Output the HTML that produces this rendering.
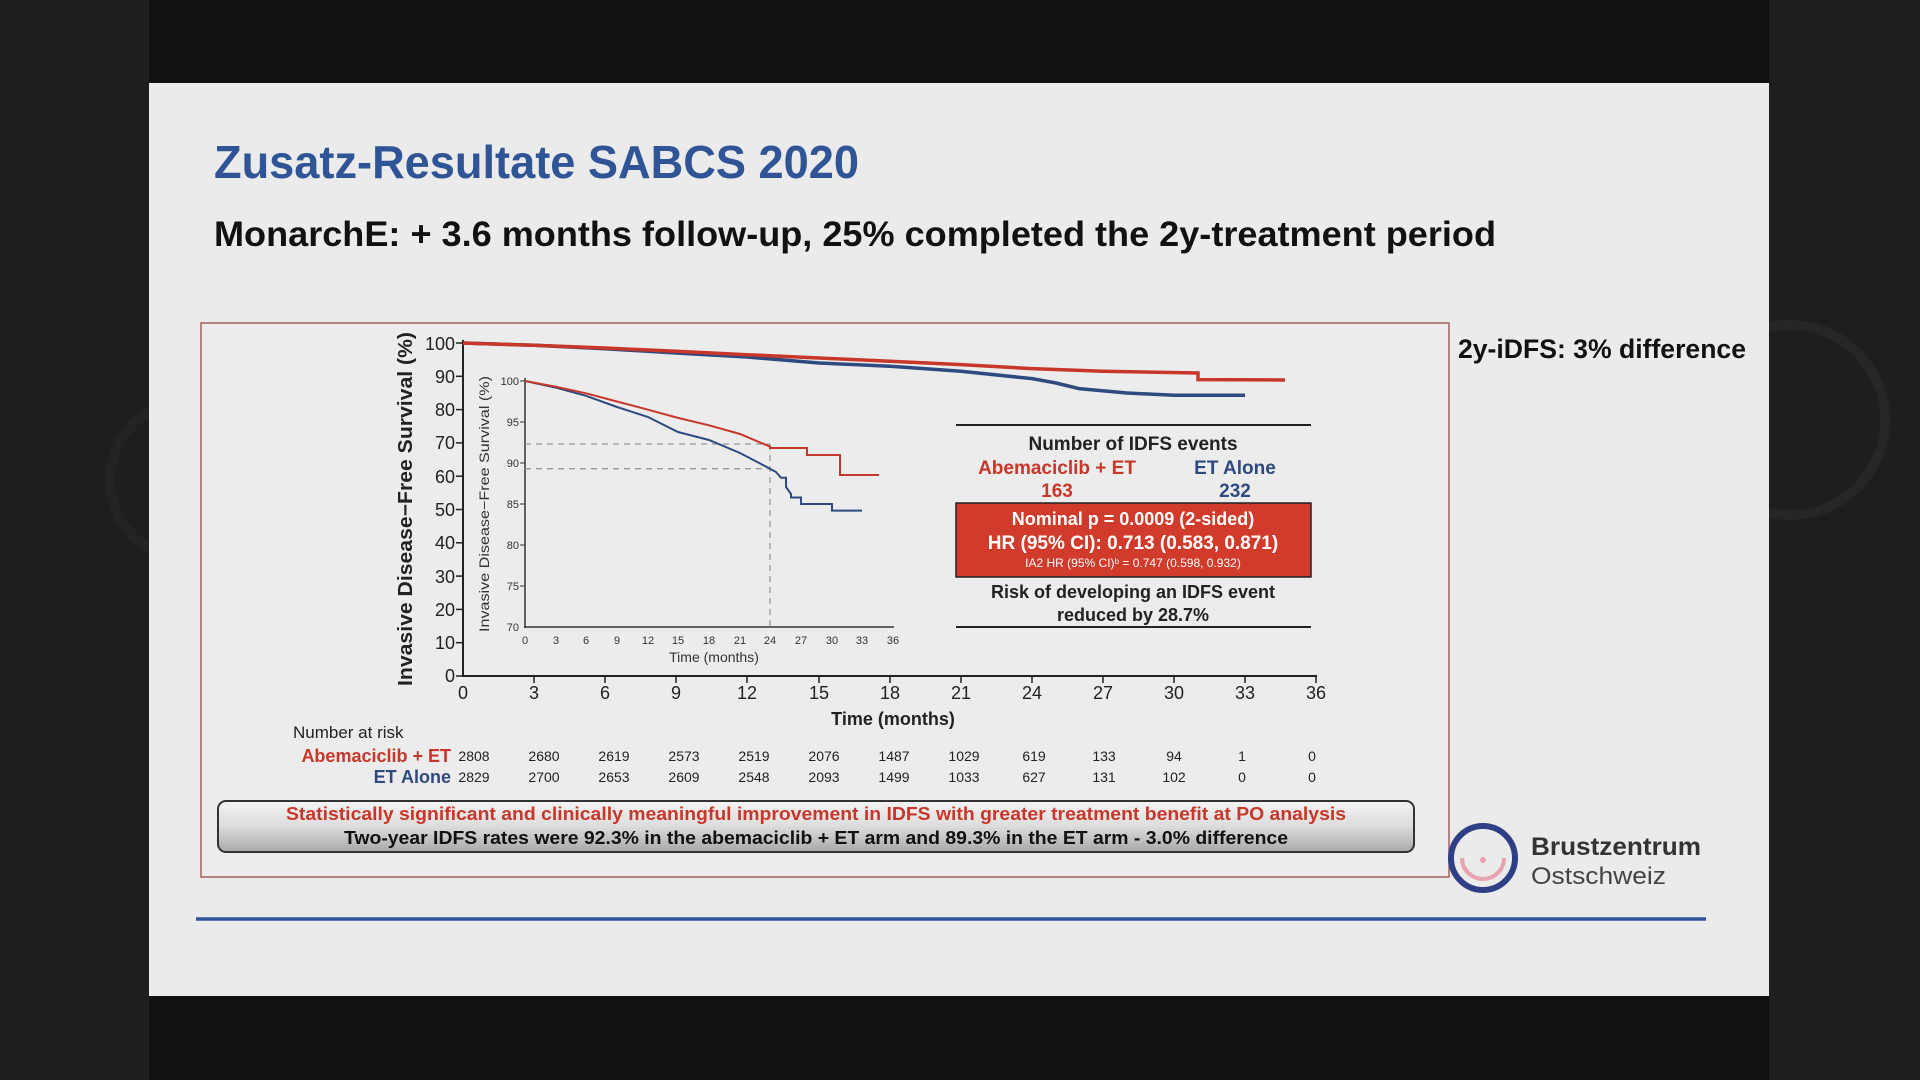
<!DOCTYPE html>
<html><head><meta charset="utf-8"><style>
html,body{margin:0;padding:0;background:#111;}
svg{display:block;font-family:"Liberation Sans",Arial,sans-serif;}
</style></head><body>
<svg width="1920" height="1080" viewBox="0 0 1920 1080" xmlns="http://www.w3.org/2000/svg">
<rect x="0" y="0" width="1920" height="1080" fill="#111"/>
<rect x="0" y="0" width="149" height="1080" fill="#1e1e1e"/>
<rect x="1769" y="0" width="151" height="1080" fill="#1e1e1e"/>
<circle cx="1790" cy="420" r="95" fill="none" stroke="#262626" stroke-width="10"/>
<circle cx="190" cy="480" r="80" fill="none" stroke="#232323" stroke-width="10"/>
<rect x="149" y="83" width="1620" height="913" fill="#ebebeb"/>
<text x="214" y="178" font-size="46" font-weight="bold" fill="#2f5597" textLength="645" lengthAdjust="spacingAndGlyphs">Zusatz-Resultate SABCS 2020</text>
<text x="214" y="246" font-size="35" font-weight="bold" fill="#111" textLength="1282" lengthAdjust="spacingAndGlyphs">MonarchE:  + 3.6 months follow-up, 25% completed the 2y-treatment period</text>
<text x="1458" y="358" font-size="27" font-weight="bold" fill="#111" textLength="288" lengthAdjust="spacingAndGlyphs">2y-iDFS:  3% difference</text>
<rect x="201" y="323" width="1248" height="554" fill="#ececec" stroke="#a46060" stroke-width="1.5"/>
<line x1="196" y1="919" x2="1706" y2="919" stroke="#2f5597" stroke-width="3.5"/>
<!-- logo -->
<circle cx="1483" cy="858" r="32" fill="none" stroke="#2f3f86" stroke-width="6"/>
<path d="M1462 858 A21 21 0 0 0 1504 858" fill="none" stroke="#e9a3b0" stroke-width="4"/>
<circle cx="1483" cy="860" r="3" fill="#e9a3b0"/>
<text x="1531" y="855" font-size="25" font-weight="bold" fill="#333" textLength="170" lengthAdjust="spacingAndGlyphs">Brustzentrum</text>
<text x="1531" y="884" font-size="24" fill="#444" textLength="135" lengthAdjust="spacingAndGlyphs">Ostschweiz</text>

<!-- main axes -->
<g stroke="#222" stroke-width="2" fill="none">
<line x1="463" y1="340" x2="463" y2="677"/>
<line x1="462" y1="676" x2="1317" y2="676"/>
</g>
<g stroke="#222" stroke-width="1.5">
<line x1="456" y1="343" x2="463" y2="343"/><line x1="456" y1="376.3" x2="463" y2="376.3"/><line x1="456" y1="409.6" x2="463" y2="409.6"/><line x1="456" y1="442.9" x2="463" y2="442.9"/><line x1="456" y1="476.2" x2="463" y2="476.2"/><line x1="456" y1="509.5" x2="463" y2="509.5"/><line x1="456" y1="542.8" x2="463" y2="542.8"/><line x1="456" y1="576.1" x2="463" y2="576.1"/><line x1="456" y1="609.4" x2="463" y2="609.4"/><line x1="456" y1="642.7" x2="463" y2="642.7"/><line x1="456" y1="676" x2="463" y2="676"/>
<line x1="534" y1="676" x2="534" y2="683"/><line x1="605" y1="676" x2="605" y2="683"/><line x1="676" y1="676" x2="676" y2="683"/><line x1="747" y1="676" x2="747" y2="683"/><line x1="819" y1="676" x2="819" y2="683"/><line x1="890" y1="676" x2="890" y2="683"/><line x1="961" y1="676" x2="961" y2="683"/><line x1="1032" y1="676" x2="1032" y2="683"/><line x1="1103" y1="676" x2="1103" y2="683"/><line x1="1174" y1="676" x2="1174" y2="683"/><line x1="1245" y1="676" x2="1245" y2="683"/><line x1="1316" y1="676" x2="1316" y2="683"/>
</g>
<g font-size="18" fill="#222" text-anchor="end">
<text x="455" y="350">100</text><text x="455" y="383">90</text><text x="455" y="416">80</text><text x="455" y="449">70</text><text x="455" y="483">60</text><text x="455" y="516">50</text><text x="455" y="549">40</text><text x="455" y="583">30</text><text x="455" y="616">20</text><text x="455" y="649">10</text><text x="455" y="682">0</text>
</g>
<g font-size="18" fill="#222" text-anchor="middle">
<text x="463" y="699">0</text><text x="534" y="699">3</text><text x="605" y="699">6</text><text x="676" y="699">9</text><text x="747" y="699">12</text><text x="819" y="699">15</text><text x="890" y="699">18</text><text x="961" y="699">21</text><text x="1032" y="699">24</text><text x="1103" y="699">27</text><text x="1174" y="699">30</text><text x="1245" y="699">33</text><text x="1316" y="699">36</text>
</g>
<text x="893" y="725" font-size="18" font-weight="bold" fill="#222" text-anchor="middle">Time (months)</text>
<text transform="translate(412,509) rotate(-90)" font-size="20" font-weight="bold" fill="#222" text-anchor="middle" textLength="354" lengthAdjust="spacingAndGlyphs">Invasive Disease−Free Survival (%)</text>

<polyline fill="none" stroke="#2f4a80" stroke-width="3.5" points="463,343 534,345.3 605,348.7 676,353 747,357 819,363 890,366.3 961,371.3 1032,378.6 1056,383 1079,388.6 1127,393 1174,395.3 1245,395.3"/>
<polyline fill="none" stroke="#c8372a" stroke-width="3.5" points="463,343 534,345.3 605,348 676,351.3 747,354.7 819,358 890,361.3 961,364.6 1032,368.6 1103,371.3 1198,373 1198,379.6 1285,380"/>

<!-- inset -->
<g stroke="#333" stroke-width="1.5" fill="none">
<line x1="525" y1="378" x2="525" y2="628"/><line x1="524" y1="627" x2="894" y2="627"/>
</g>
<g stroke="#333" stroke-width="1">
<line x1="520" y1="381" x2="525" y2="381"/><line x1="520" y1="422" x2="525" y2="422"/><line x1="520" y1="463" x2="525" y2="463"/><line x1="520" y1="504" x2="525" y2="504"/><line x1="520" y1="545" x2="525" y2="545"/><line x1="520" y1="586" x2="525" y2="586"/>
</g>
<g font-size="11" fill="#333" text-anchor="end">
<text x="519" y="385">100</text><text x="519" y="426">95</text><text x="519" y="467">90</text><text x="519" y="508">85</text><text x="519" y="549">80</text><text x="519" y="590">75</text><text x="519" y="631">70</text>
</g>
<g font-size="11" fill="#333" text-anchor="middle">
<text x="525" y="644">0</text><text x="556" y="644">3</text><text x="586" y="644">6</text><text x="617" y="644">9</text><text x="648" y="644">12</text><text x="678" y="644">15</text><text x="709" y="644">18</text><text x="740" y="644">21</text><text x="770" y="644">24</text><text x="801" y="644">27</text><text x="832" y="644">30</text><text x="862" y="644">33</text><text x="893" y="644">36</text>
</g>
<text x="714" y="662" font-size="14" fill="#333" text-anchor="middle">Time (months)</text>
<text transform="translate(489,504) rotate(-90)" font-size="14" fill="#333" text-anchor="middle" textLength="256" lengthAdjust="spacingAndGlyphs">Invasive Disease−Free Survival (%)</text>
<g stroke="#999" stroke-width="1.3" stroke-dasharray="6,5" fill="none">
<line x1="525" y1="444" x2="770" y2="444"/><line x1="525" y1="468.7" x2="770" y2="468.7"/><line x1="770" y1="444" x2="770" y2="627"/>
</g>
<polyline fill="none" stroke="#2f4a80" stroke-width="2" points="525,381 556,387.6 586,395.8 617,407 648,417 678,432 709,440 740,453 770,468.7 776,472 781,477.8 786,477.8 786,487 791,494 791,497.5 801,497.5 801,504 811,504 832,504 832,510.6 862,510.6"/>
<polyline fill="none" stroke="#c8372a" stroke-width="2" points="525,381 556,386.7 586,393.3 617,401.5 648,409.7 678,417.9 709,425.3 740,434 770,446.6 770,448 807,448 807,455 840,455 840,475 879,475"/>

<!-- legend box -->
<line x1="956" y1="425" x2="1311" y2="425" stroke="#222" stroke-width="2"/>
<line x1="956" y1="627" x2="1311" y2="627" stroke="#222" stroke-width="2"/>
<text x="1133" y="450" font-size="19" font-weight="bold" fill="#222" text-anchor="middle">Number of IDFS events</text>
<text x="1057" y="474" font-size="19" font-weight="bold" fill="#c8372a" text-anchor="middle">Abemaciclib + ET</text>
<text x="1057" y="497" font-size="19" font-weight="bold" fill="#c8372a" text-anchor="middle">163</text>
<text x="1235" y="474" font-size="19" font-weight="bold" fill="#2f4a80" text-anchor="middle">ET Alone</text>
<text x="1235" y="497" font-size="19" font-weight="bold" fill="#2f4a80" text-anchor="middle">232</text>
<rect x="956" y="503" width="355" height="74" fill="#d13b2b" stroke="#222" stroke-width="1.5"/>
<text x="1133" y="525" font-size="18" font-weight="bold" fill="#fff" text-anchor="middle">Nominal p = 0.0009 (2-sided)</text>
<text x="1133" y="549" font-size="19" font-weight="bold" fill="#fff" text-anchor="middle">HR (95% CI): 0.713 (0.583, 0.871)</text>
<text x="1133" y="567" font-size="12" fill="#fff" text-anchor="middle">IA2 HR (95% CI)ᵇ = 0.747 (0.598, 0.932)</text>
<text x="1133" y="598" font-size="18" font-weight="bold" fill="#222" text-anchor="middle">Risk of developing an IDFS event</text>
<text x="1133" y="621" font-size="18" font-weight="bold" fill="#222" text-anchor="middle">reduced by 28.7%</text>

<!-- number at risk -->
<text x="293" y="738" font-size="17" fill="#222">Number at risk</text>
<text x="451" y="762" font-size="18" font-weight="bold" fill="#c8372a" text-anchor="end">Abemaciclib + ET</text>
<text x="451" y="783" font-size="18" font-weight="bold" fill="#2f4a80" text-anchor="end">ET Alone</text>
<g font-size="14" fill="#222" text-anchor="middle">
<text x="474" y="761">2808</text><text x="544" y="761">2680</text><text x="614" y="761">2619</text><text x="684" y="761">2573</text><text x="754" y="761">2519</text><text x="824" y="761">2076</text><text x="894" y="761">1487</text><text x="964" y="761">1029</text><text x="1034" y="761">619</text><text x="1104" y="761">133</text><text x="1174" y="761">94</text><text x="1242" y="761">1</text><text x="1312" y="761">0</text>
<text x="474" y="782">2829</text><text x="544" y="782">2700</text><text x="614" y="782">2653</text><text x="684" y="782">2609</text><text x="754" y="782">2548</text><text x="824" y="782">2093</text><text x="894" y="782">1499</text><text x="964" y="782">1033</text><text x="1034" y="782">627</text><text x="1104" y="782">131</text><text x="1174" y="782">102</text><text x="1242" y="782">0</text><text x="1312" y="782">0</text>
</g>

<!-- banner -->
<defs><linearGradient id="g" x1="0" y1="0" x2="0" y2="1"><stop offset="0" stop-color="#f4f4f4"/><stop offset="0.5" stop-color="#dcdcdc"/><stop offset="1" stop-color="#a8a8a8"/></linearGradient></defs>
<rect x="218" y="801" width="1196" height="51" rx="8" fill="url(#g)" stroke="#333" stroke-width="2"/>
<text x="816" y="820" font-size="18" font-weight="bold" fill="#c8372a" text-anchor="middle" textLength="1060" lengthAdjust="spacingAndGlyphs">Statistically significant and clinically meaningful improvement in IDFS with greater treatment benefit at PO analysis</text>
<text x="816" y="844" font-size="18" font-weight="bold" fill="#111" text-anchor="middle" textLength="944" lengthAdjust="spacingAndGlyphs">Two-year IDFS rates were 92.3% in the abemaciclib + ET arm and 89.3% in the ET arm - 3.0% difference</text>
</svg>
</body></html>
